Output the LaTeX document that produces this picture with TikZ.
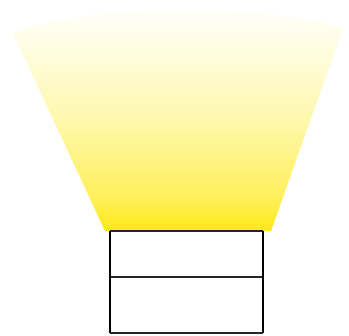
\documentclass[tikz,border=0pt]{standalone}
\definecolor{beamy}{RGB}{255,232,20}
\definecolor{beamb}{RGB}{255,240,90}
\definecolor{beammid}{RGB}{255,248,175}
\definecolor{beamhi}{RGB}{255,253,228}
\pgfdeclareverticalshading{beamshade}{100bp}{color(0bp)=(beamy); color(25bp)=(beamy); color(32bp)=(beamb); color(50bp)=(beammid); color(66bp)=(beamhi); color(75bp)=(white); color(100bp)=(white)}
\begin{document}
\begin{tikzpicture}[x=1pt,y=-1pt,
  hline/.style={line width=1.3pt,black!85},
  vline/.style={line width=2.2pt,black}]
\useasboundingbox (0,0) rectangle (349,336);
% light beam
\shade[shading=beamshade]
  (105,231) -- (13,33) .. controls (100,2) and (255,2) .. (343,28) -- (271,231) -- cycle;
% box
\coordinate (tl) at (110,231);
\coordinate (tr) at (263,231);
\coordinate (ml) at (110,277);
\coordinate (mr) at (263,277);
\coordinate (bl) at (110,333);
\coordinate (br) at (263,333);
\draw[hline] (tl) -- (tr);
\draw[hline] (ml) -- (mr);
\draw[hline] (bl) -- (br);
\draw[vline] (tl) -- (bl);
\draw[vline] (tr) -- (br);
\end{tikzpicture}
\end{document}
